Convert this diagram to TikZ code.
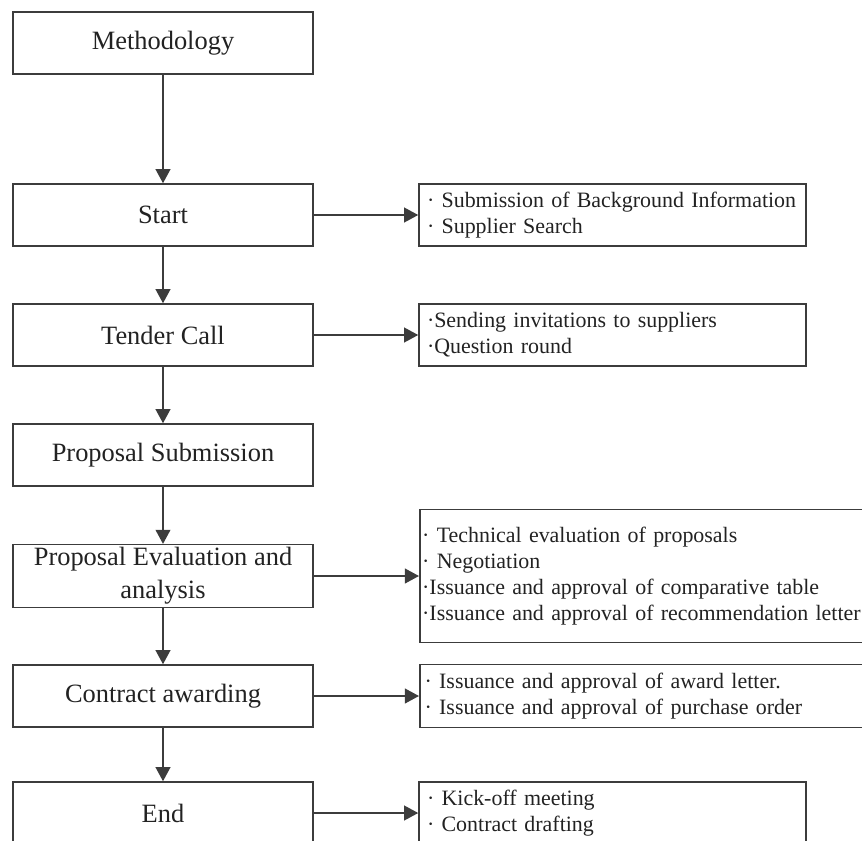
\documentclass[tikz,border=0pt]{standalone}
\usepackage{fontspec}
\setmainfont{Liberation Serif}
\usetikzlibrary{arrows.meta}
\definecolor{ink}{HTML}{222222}
\definecolor{frame}{HTML}{3C3C3C}
\newcommand{\stagefont}{\fontsize{18.8}{23.5}\selectfont}
\newcommand{\notefont}{\fontsize{15.6}{18.6}\selectfont}
\tikzset{
 every node/.append style={text=ink},
 stage/.style={draw=frame,line width=1.1pt,minimum width=7.5cm,minimum height=1.55cm,align=center,font=\stagefont,inner sep=2pt},
 note/.style={draw=frame,line width=1.1pt,minimum height=1.55cm,text width=9.275cm,align=left,inner xsep=.2cm,font=\notefont},
 widenote/.style={note,anchor=west,text width=12cm},
 flow/.style={-{Triangle[length=10pt,width=10.5pt]},draw=frame,line width=1.1pt},
}

\begin{document}
\begin{tikzpicture}

\useasboundingbox (0,0) rectangle (21.55,-21);
\clip (0,0) rectangle (21.55,-21);

\node[stage] (method) at (4.075,-1.075) {Methodology};
\node[stage] (start) at (4.075,-5.375) {Start};
\node[stage] (tender) at (4.075,-8.375) {Tender Call};
\node[stage] (submit) at (4.075,-11.375) {Proposal Submission};
\node[stage] (evaluate) at (4.075,-14.4) {Proposal Evaluation and\\analysis};
\node[stage] (award) at (4.075,-17.4) {Contract awarding};
\node[stage] (finish) at (4.075,-20.325) {End};

\node[note] (startnote) at (15.3125,-5.375) {%
  · Submission of Background Information\\
  · Supplier Search};
\node[note] (tendernote) at (15.3125,-8.375) {%
  ·Sending invitations to suppliers\\
  ·Question round};
\node[widenote,minimum height=3.325cm,inner xsep=.06cm] (evalnote) at (10.475,-14.4) {%
  · Technical evaluation of proposals\\
  · Negotiation\\
  ·Issuance and approval of comparative table\\
  ·Issuance and approval of recommendation letter};
\node[widenote,minimum height=1.575cm,inner xsep=.12cm] (awardnote) at (10.475,-17.4) {%
  · Issuance and approval of award letter.\\
  · Issuance and approval of purchase order};
\node[note] (finishnote) at (15.3125,-20.325) {%
  · Kick-off meeting\\
  · Contract drafting};

\draw[flow] (method) -- (start);
\draw[flow] (start) -- (tender);
\draw[flow] (tender) -- (submit);
\draw[flow] (submit) -- (evaluate);
\draw[flow] (evaluate) -- (award);
\draw[flow] (award) -- (finish);

\draw[flow] (start) -- (startnote);
\draw[flow] (tender) -- (tendernote);
\draw[flow] (evaluate) -- (evalnote);
\draw[flow] (award) -- (awardnote);
\draw[flow] (finish) -- (finishnote);

\end{tikzpicture}
\end{document}
